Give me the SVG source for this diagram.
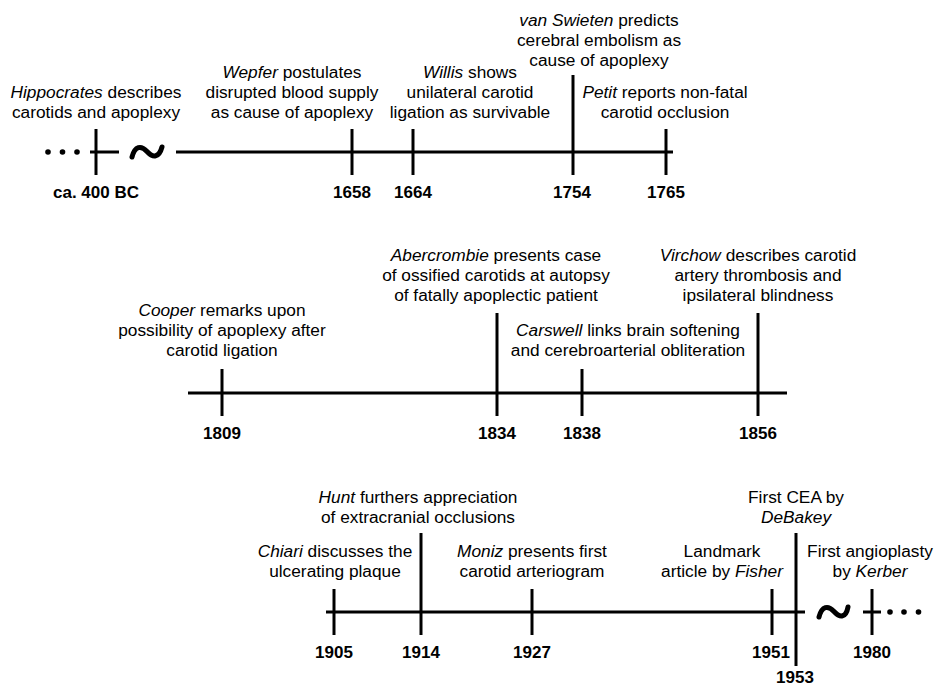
<svg xmlns="http://www.w3.org/2000/svg" width="936" height="688" viewBox="0 0 936 688">
<style>
.bg{fill:#fff}
.ax{stroke:#000;stroke-width:3;fill:none}
.tk{stroke:#000;stroke-width:3;fill:none}
.tl{stroke:#000;stroke-width:5;fill:none;stroke-linecap:round}
.dot{fill:#000}
.t{font-family:"Liberation Sans",Arial,sans-serif;font-size:17.3px;fill:#000;text-anchor:middle}
.y{font-family:"Liberation Sans",Arial,sans-serif;font-size:17px;font-weight:bold;fill:#000;text-anchor:middle}
.i{font-style:italic}
</style>
<rect class="bg" x="0" y="0" width="936" height="688"/>
<g id="connectors">
  <line class="ax" x1="90" y1="152" x2="119" y2="152"/>
  <path class="tl" d="M132,157 C135,146 141,145 147,151.5 C153,158 159,158 162,147"/>
  <line class="ax" x1="176" y1="152" x2="673" y2="152"/>
  <circle class="dot" cx="48" cy="152" r="2.8"/>
  <circle class="dot" cx="62.5" cy="152" r="2.8"/>
  <circle class="dot" cx="77" cy="152" r="2.8"/>
  <line class="ax" x1="188" y1="393" x2="787" y2="393"/>
  <line class="ax" x1="326" y1="612" x2="805" y2="612"/>
  <path class="tl" d="M819,617 C822,606 828,605 834,611.5 C840,618 846,618 848,607"/>
  <line class="ax" x1="863" y1="612" x2="881" y2="612"/>
  <circle class="dot" cx="890" cy="612" r="2.8"/>
  <circle class="dot" cx="904" cy="612" r="2.8"/>
  <circle class="dot" cx="918.5" cy="612" r="2.8"/>
</g>
<g id="e400bc">
  <line class="tk" x1="96" y1="129" x2="96" y2="175"/>
  <text class="t" x="96" y="98"><tspan class="i">Hippocrates</tspan> describes</text>
  <text class="t" x="96" y="118">carotids and apoplexy</text>
  <text class="y" x="96" y="198">ca. 400 BC</text>
</g>
<g id="e1658">
  <line class="tk" x1="352" y1="129" x2="352" y2="175"/>
  <text class="t" x="292" y="78"><tspan class="i">Wepfer</tspan> postulates</text>
  <text class="t" x="292" y="98">disrupted blood supply</text>
  <text class="t" x="292" y="118">as cause of apoplexy</text>
  <text class="y" x="352" y="198">1658</text>
</g>
<g id="e1664">
  <line class="tk" x1="413" y1="129" x2="413" y2="175"/>
  <text class="t" x="470" y="78"><tspan class="i">Willis</tspan> shows</text>
  <text class="t" x="470" y="98">unilateral carotid</text>
  <text class="t" x="470" y="118">ligation as survivable</text>
  <text class="y" x="413" y="198">1664</text>
</g>
<g id="e1754">
  <line class="tk" x1="573" y1="75" x2="573" y2="175"/>
  <text class="t" x="599" y="26"><tspan class="i">van Swieten</tspan> predicts</text>
  <text class="t" x="599" y="46">cerebral embolism as</text>
  <text class="t" x="599" y="66">cause of apoplexy</text>
  <text class="y" x="572" y="198">1754</text>
</g>
<g id="e1765">
  <line class="tk" x1="666" y1="129" x2="666" y2="175"/>
  <text class="t" x="665" y="98"><tspan class="i">Petit</tspan> reports non-fatal</text>
  <text class="t" x="665" y="118">carotid occlusion</text>
  <text class="y" x="666" y="198">1765</text>
</g>
<g id="e1809">
  <line class="tk" x1="222" y1="369" x2="222" y2="416"/>
  <text class="t" x="222" y="316"><tspan class="i">Cooper</tspan> remarks upon</text>
  <text class="t" x="222" y="336">possibility of apoplexy after</text>
  <text class="t" x="222" y="356">carotid ligation</text>
  <text class="y" x="222" y="439">1809</text>
</g>
<g id="e1834">
  <line class="tk" x1="497" y1="313" x2="497" y2="416"/>
  <text class="t" x="496" y="261"><tspan class="i">Abercrombie</tspan> presents case</text>
  <text class="t" x="496" y="281">of ossified carotids at autopsy</text>
  <text class="t" x="496" y="301">of fatally apoplectic patient</text>
  <text class="y" x="497" y="439">1834</text>
</g>
<g id="e1838">
  <line class="tk" x1="582" y1="369" x2="582" y2="416"/>
  <text class="t" x="628" y="336"><tspan class="i">Carswell</tspan> links brain softening</text>
  <text class="t" x="628" y="356">and cerebroarterial obliteration</text>
  <text class="y" x="582" y="439">1838</text>
</g>
<g id="e1856">
  <line class="tk" x1="758" y1="313" x2="758" y2="416"/>
  <text class="t" x="758" y="261"><tspan class="i">Virchow</tspan> describes carotid</text>
  <text class="t" x="758" y="281">artery thrombosis and</text>
  <text class="t" x="758" y="301">ipsilateral blindness</text>
  <text class="y" x="758" y="439">1856</text>
</g>
<g id="e1905">
  <line class="tk" x1="334" y1="589" x2="334" y2="635"/>
  <text class="t" x="335" y="557"><tspan class="i">Chiari</tspan> discusses the</text>
  <text class="t" x="335" y="577">ulcerating plaque</text>
  <text class="y" x="334" y="658">1905</text>
</g>
<g id="e1914">
  <line class="tk" x1="421" y1="533" x2="421" y2="635"/>
  <text class="t" x="418" y="503"><tspan class="i">Hunt</tspan> furthers appreciation</text>
  <text class="t" x="418" y="523">of extracranial occlusions</text>
  <text class="y" x="421" y="658">1914</text>
</g>
<g id="e1927">
  <line class="tk" x1="532" y1="589" x2="532" y2="635"/>
  <text class="t" x="532" y="557"><tspan class="i">Moniz</tspan> presents first</text>
  <text class="t" x="532" y="577">carotid arteriogram</text>
  <text class="y" x="532" y="658">1927</text>
</g>
<g id="e1951">
  <line class="tk" x1="772" y1="589" x2="772" y2="635"/>
  <text class="t" x="722" y="557">Landmark</text>
  <text class="t" x="722" y="577">article by <tspan class="i">Fisher</tspan></text>
  <text class="y" x="771" y="658">1951</text>
</g>
<g id="e1953">
  <line class="tk" x1="796" y1="533" x2="796" y2="666"/>
  <text class="t" x="796" y="503">First CEA by</text>
  <text class="t" x="796" y="523"><tspan class="i">DeBakey</tspan></text>
  <text class="y" x="795" y="683">1953</text>
</g>
<g id="e1980">
  <line class="tk" x1="872" y1="589" x2="872" y2="635"/>
  <text class="t" x="870" y="557">First angioplasty</text>
  <text class="t" x="870" y="577">by <tspan class="i">Kerber</tspan></text>
  <text class="y" x="872" y="658">1980</text>
</g>
</svg>
